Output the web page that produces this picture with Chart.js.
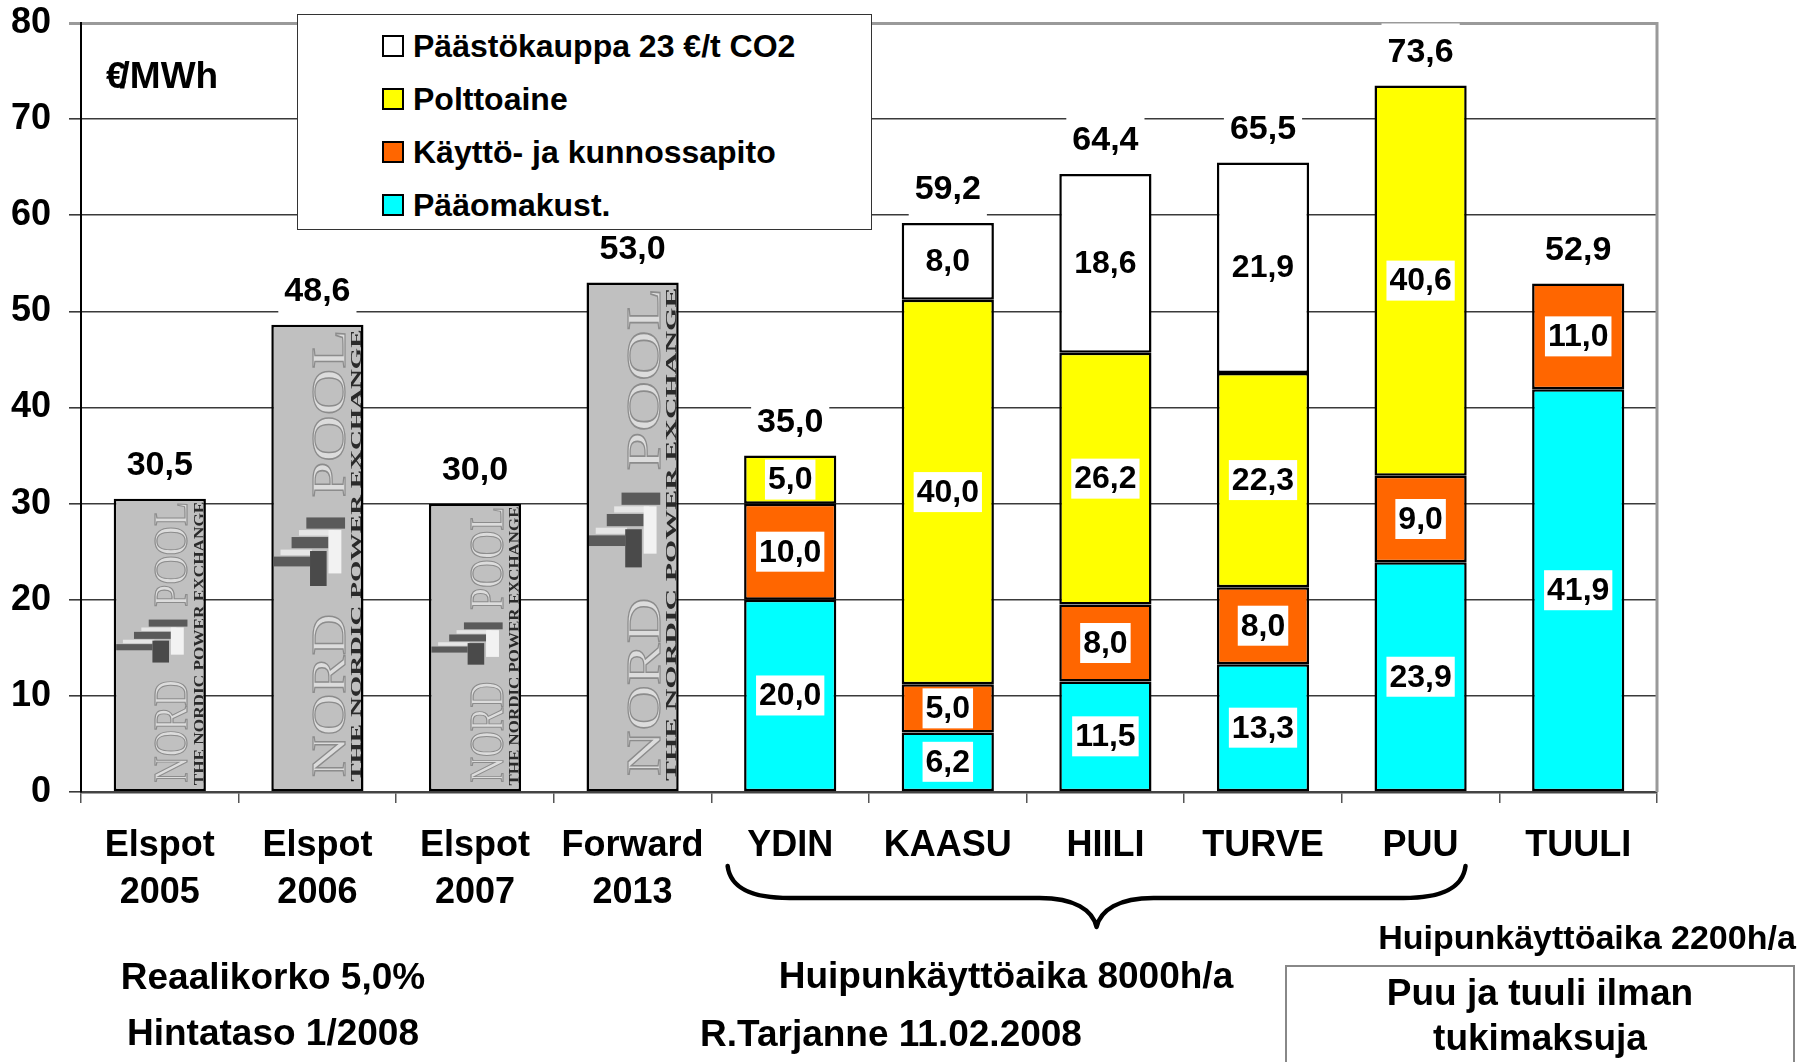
<!DOCTYPE html>
<html><head><meta charset="utf-8">
<script src="https://cdn.jsdelivr.net/npm/chart.js@4.4.1/dist/chart.umd.min.js"></script>
<style>
html,body{margin:0;padding:0;background:#fff;}
#wrap{position:relative;width:1818px;height:1062px;overflow:hidden;font-family:"Liberation Sans",Arial,sans-serif;font-weight:bold;color:#000;}
canvas{position:absolute;left:0;top:0;}
.t{position:absolute;white-space:nowrap;line-height:1;transform:translate(-50%,-50%);}
#legend{position:absolute;left:297px;top:14px;width:575px;height:216px;border:1.5px solid #333;background:#fff;box-sizing:border-box;}
.li{position:absolute;left:84px;display:flex;align-items:center;font-size:32px;line-height:1;transform:translateY(-50%);white-space:nowrap;}
.sw{width:18px;height:18px;border:2px solid #000;margin-right:9px;flex:none;}
#note{position:absolute;left:1285px;top:965px;width:510px;height:130px;border:2px solid #888;box-sizing:border-box;}
#unit{position:absolute;left:106px;top:75px;transform:translateY(-50%);font-size:37px;line-height:1;white-space:nowrap;}
</style></head>
<body>
<div id="wrap">
<canvas id="c" width="1818" height="1062"></canvas>
<div id="unit"><span style="letter-spacing:-7px">€</span>/MWh</div>
<div id="legend"></div>
<div class="t" style="left:273px;top:976px;font-size:37px">Reaalikorko 5,0%</div>
<div class="t" style="left:273px;top:1032px;font-size:37px">Hintataso 1/2008</div>
<div class="t" style="left:1006px;top:975px;font-size:37px">Huipunkäyttöaika 8000h/a</div>
<div class="t" style="left:891px;top:1033px;font-size:37px">R.Tarjanne 11.02.2008</div>
<div class="t" style="left:1587px;top:937px;font-size:34px">Huipunkäyttöaika 2200h/a</div>
<div id="note"></div>
<div class="t" style="left:1540px;top:992px;font-size:37px">Puu ja tuuli ilman</div>
<div class="t" style="left:1540px;top:1037px;font-size:37px">tukimaksuja</div>
</div>
<script>
// ---- data ----
const categories = [["Elspot","2005"],["Elspot","2006"],["Elspot","2007"],["Forward","2013"],"YDIN","KAASU","HIILI","TURVE","PUU","TUULI"];
const marketPrice = [30.5, 48.6, 30.0, 53.0, null, null, null, null, null, null];
const capitalCost = [null, null, null, null, 20.0, 6.2, 11.5, 13.3, 23.9, 41.9];
const omCost      = [null, null, null, null, 10.0, 5.0, 8.0, 8.0, 9.0, 11.0];
const fuelCost    = [null, null, null, null, 5.0, 40.0, 26.2, 22.3, 40.6, null];
const emissionCost= [null, null, null, null, null, 8.0, 18.6, 21.9, null, null];
const totals      = [30.5, 48.6, 30.0, 53.0, 35.0, 59.2, 64.4, 65.5, 73.6, 52.9];
const seriesNames = ["Pääomakust.", "Käyttö- ja kunnossapito", "Polttoaine", "Päästökauppa 23 €/t CO2"];
const seriesColors = ["#00FFFF", "#FF6600", "#FFFF00", "#FFFFFF"];
const yMin = 0, yMax = 80, yStep = 10;

const fmt = v => v.toFixed(1).replace('.', ',');

// legend (top to bottom: reverse stacking order)
const lg = document.getElementById('legend');
[3,2,1,0].forEach((s, row) => {
  const d = document.createElement('div');
  d.className = 'li';
  d.style.top = (31 + row*53) + 'px';
  d.innerHTML = '<span class="sw" style="background:' + seriesColors[s] + '"></span>' + seriesNames[s];
  lg.appendChild(d);
});

Chart.defaults.font.family = '"Liberation Sans", Arial, sans-serif';
Chart.defaults.font.weight = 'bold';
Chart.defaults.color = '#000';

function drawLogo(ctx, bar) {
  const p = bar.getProps(['x','y','base','width'], true);
  const w = p.width, left = p.x - w/2, h = p.base - p.y;
  ctx.save();
  ctx.beginPath();
  ctx.rect(left + 2.5, p.y + 2.5, w - 5, h - 2.5);
  ctx.clip();
  const lt = p.base - 0.59*h, lh = 0.15*h;
  ctx.fillStyle = '#5a5a5a';
  ctx.fillRect(left + 0.38*w, lt + 0.02*lh, 0.42*w, 0.16*lh);
  ctx.fillRect(left + 0.22*w, lt + 0.30*lh, 0.40*w, 0.16*lh);
  ctx.fillRect(left + 0.02*w, lt + 0.58*lh, 0.40*w, 0.14*lh);
  ctx.fillStyle = '#e6e6e6';
  ctx.fillRect(left + 0.30*w, lt + 0.20*lh, 0.38*w, 0.08*lh);
  ctx.fillRect(left + 0.10*w, lt + 0.48*lh, 0.34*w, 0.08*lh);
  ctx.fillStyle = '#4a4a4a';
  ctx.fillRect(left + 0.42*w, lt + 0.50*lh, 0.18*w, 0.50*lh);
  ctx.fillStyle = '#f2f2f2';
  ctx.fillRect(left + 0.62*w, lt + 0.20*lh, 0.14*w, 0.62*lh);
  ctx.translate(left, p.base);
  ctx.rotate(-Math.PI/2);
  ctx.textBaseline = 'alphabetic';
  ctx.textAlign = 'left';
  const bigFs = 0.34*w/0.66;
  ctx.font = bigFs + 'px "Liberation Serif", serif';
  function fitText(txt, x0, x1, base, fill, stroke) {
    const m = ctx.measureText(txt).width;
    ctx.save();
    ctx.translate(x0, base);
    ctx.scale((x1 - x0)/m, 1);
    if (fill) { ctx.fillStyle = fill; ctx.fillText(txt, 0, 0); }
    if (stroke) { ctx.strokeStyle = stroke; ctx.lineWidth = 1.2; ctx.strokeText(txt, 0, 0); }
    ctx.restore();
  }
  fitText('NORD', 0.03*h, 0.38*h, 0.80*w, '#dcdcdc', '#8c8c8c');
  fitText('POOL', 0.63*h, 0.99*h, 0.80*w, '#dcdcdc', '#8c8c8c');
  ctx.font = 'bold ' + (0.15*w) + 'px "Liberation Serif", serif';
  fitText('THE NORDIC POWER EXCHANGE', 0.02*h, 0.99*h, 0.975*w, '#2a2a2a', null);
  ctx.restore();
}

function labelBox(ctx, txt, cx, cy, padX, boxH, fs) {
  ctx.font = 'bold ' + fs + 'px "Liberation Sans", Arial, sans-serif';
  const tw = ctx.measureText(txt).width;
  ctx.fillStyle = '#fff';
  ctx.fillRect(cx - tw/2 - padX, cy - boxH/2, tw + 2*padX, boxH);
  ctx.fillStyle = '#000';
  ctx.textAlign = 'center';
  ctx.textBaseline = 'middle';
  ctx.fillText(txt, cx, cy + 1);
}

const overlay = {
  id: 'overlay',
  afterDatasetsDraw(chart) {
    const ctx = chart.ctx, ca = chart.chartArea;
    chart.getDatasetMeta(0).data.forEach((bar, i) => { if (marketPrice[i] != null) drawLogo(ctx, bar); });
    for (let d = 1; d <= 4; d++) {
      const meta = chart.getDatasetMeta(d);
      const vals = chart.data.datasets[d].data;
      meta.data.forEach((el, i) => {
        if (vals[i] == null) return;
        const p = el.getProps(['x','y','base'], true);
        labelBox(ctx, fmt(vals[i]), p.x, (p.y + p.base)/2, 3, 40, 32);
      });
    }
    const n = categories.length;
    for (let i = 0; i < n; i++) {
      let topY = null;
      for (let d = 0; d < chart.data.datasets.length; d++) {
        if (chart.data.datasets[d].data[i] == null) continue;
        const el = chart.getDatasetMeta(d).data[i];
        const p = el.getProps(['x','y'], true);
        if (topY === null || p.y < topY.y) topY = p;
      }
      if (topY) labelBox(ctx, fmt(totals[i]), topY.x, topY.y - 34, 6, 56, 34);
    }
    ctx.save();
    ctx.strokeStyle = '#9a9a9a';
    ctx.lineWidth = 3;
    ctx.beginPath();
    ctx.moveTo(ca.right, ca.top - 1);
    ctx.lineTo(ca.right, ca.bottom);
    ctx.stroke();
    ctx.restore();
  },
  afterDraw(chart) {
    const ctx = chart.ctx, xs = chart.scales.x, ca = chart.chartArea;
    const cat = xs.getPixelForValue(1) - xs.getPixelForValue(0);
    const x1 = xs.getPixelForValue(4) - 0.397*cat;
    const x2 = xs.getPixelForValue(8) + 0.285*cat;
    const xm = (x1 + x2)/2;
    const yT = ca.bottom + 74, yM = ca.bottom + 106, yP = ca.bottom + 135;
    ctx.save();
    ctx.strokeStyle = '#000';
    ctx.lineWidth = 4.5;
    ctx.lineCap = 'round';
    ctx.lineJoin = 'round';
    ctx.beginPath();
    ctx.moveTo(x1, yT);
    ctx.bezierCurveTo(x1 + 3, yM - 8, x1 + 27, yM, x1 + 62, yM);
    ctx.lineTo(xm - 57, yM);
    ctx.bezierCurveTo(xm - 22, yM, xm - 4, yM + 12, xm, yP);
    ctx.bezierCurveTo(xm + 4, yM + 12, xm + 22, yM, xm + 57, yM);
    ctx.lineTo(x2 - 62, yM);
    ctx.bezierCurveTo(x2 - 27, yM, x2 - 3, yM - 8, x2, yT);
    ctx.stroke();
    ctx.restore();
  }
};

const common = { stack: 's', borderColor: '#000', borderWidth: 2.5, borderSkipped: false, barPercentage: 0.585, categoryPercentage: 1.0 };

new Chart(document.getElementById('c'), {
  type: 'bar',
  data: {
    labels: categories,
    datasets: [
      Object.assign({ label: 'Markkinahinta', data: marketPrice, backgroundColor: '#C0C0C0' }, common),
      Object.assign({ label: seriesNames[0], data: capitalCost, backgroundColor: seriesColors[0] }, common),
      Object.assign({ label: seriesNames[1], data: omCost, backgroundColor: seriesColors[1] }, common),
      Object.assign({ label: seriesNames[2], data: fuelCost, backgroundColor: seriesColors[2] }, common),
      Object.assign({ label: seriesNames[3], data: emissionCost, backgroundColor: seriesColors[3] }, common)
    ]
  },
  options: {
    responsive: false,
    animation: false,
    devicePixelRatio: 1,
    layout: { padding: { top: 23, right: 161, left: 0, bottom: 0 } },
    plugins: { legend: { display: false }, tooltip: { enabled: false } },
    scales: {
      x: {
        stacked: true,
        afterFit: s => { s.height = 270; s.paddingLeft = 0; s.paddingRight = 0; },
        grid: { offset: true, drawOnChartArea: false, tickLength: 11, color: '#555', lineWidth: 1.5 },
        border: { display: true, color: '#444', width: 2.5 },
        ticks: { font: { size: 36, weight: 'bold', lineHeight: 1.3 }, padding: 20, color: '#000', maxRotation: 0, autoSkip: false }
      },
      y: {
        stacked: true,
        min: yMin, max: yMax,
        afterFit: s => { s.width = 81; s.paddingTop = 0; s.paddingBottom = 0; },
        grid: {
          tickLength: 12,
          color: c => (c.tick && c.tick.value === yMax) ? '#9a9a9a' : '#3a3a3a',
          lineWidth: c => (c.tick && c.tick.value === yMax) ? 3 : 1.6
        },
        border: { display: true, color: '#000', width: 2 },
        ticks: { stepSize: yStep, font: { size: 36, weight: 'bold' }, padding: 18, color: '#000' }
      }
    }
  },
  plugins: [overlay]
});
</script>
</body></html>
